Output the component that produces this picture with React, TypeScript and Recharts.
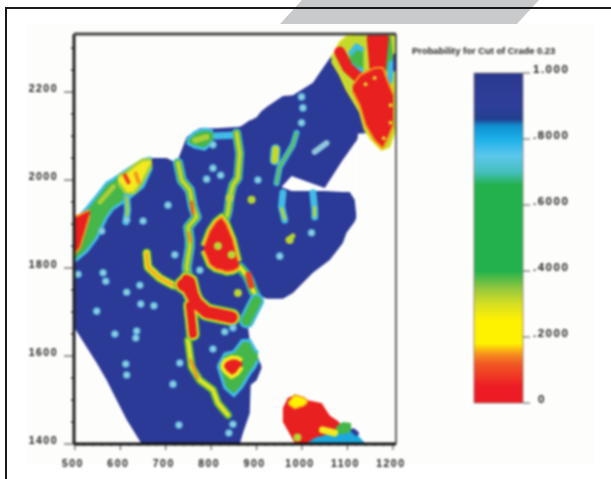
import React from 'react';
import { ComposedChart, BarChart, Bar, Area, Line, Scatter, XAxis, YAxis, ReferenceLine } from 'recharts';

type P = [number, number];
type R = [number, number, number];

const title = 'Probability for Cut of Crade 0.23';
const xTicks = [500,520,540,560,580,600,620,640,660,680,700,720,740,760,780,800,820,840,860,880,900,920,940,960,980,1000,1020,1040,1060,1080,1100,1120,1140,1160,1180,1200];
const yTicks = [1400,1450,1500,1550,1600,1650,1700,1750,1800,1850,1900,1950,2000,2050,2100,2150,2200,2250,2300];
const scaleTicks = [0,0.2,0.4,0.6,0.8,1];
const scaleLabels = ['0','.2000','.4000','.6000','.8000','1.000'];

const hull: R[] = [[498,1666,1898],[526,1620,1936],[548,1584,1964],[570,1545,1993],[584,1516,2002],[614,1455,2023],[647,1400,2043],[665,1400,2050],[702,1400,2050],[724,1400,2039],[746,1400,2098],[775,1400,2118],[812,1400,2118],[863,1400,2121],[870,1425,2125],[885,1470,2136],[887,1534,2136],[900,1545,2143],[911,1573,2157],[914,1734,2159],[922,1730,2166],[958,1730,2191],[980,1743,2193],[1024,1789,2221],[1061,1818,2277],[1090,1857,2318],[1098,1880,2327],[1116,1905,2332],[1120,1916,2332],[1123,2105,2332],[1149,2107,2332],[1171,2080,2332],[1175,2073,2332],[1189,2080,2332],[1206,2114,2332]];
const whiteWedge: R[] = [[881,1666,1666],[885,1636,1682],[896,1614,1698],[911,1577,1720],[915,1550,1727]];
const whiteNotch: R[] = [[955,1984,1984],[977,1975,2009],[1050,1975,1982],[1090,1973,2046],[1105,1973,2068],[1116,1955,2084],[1120,1916,2089],[1125,1900,2100]];

const nwRim: R[] = [[498,1814,1905],[526,1838,1936],[548,1868,1964],[570,1915,1993],[584,1935,2002],[614,1955,2023],[650,1985,2046],[669,2028,2050]];
const nwYellow: R[] = [[595,1995,2008],[614,1968,2018],[632,1972,2034],[650,1998,2046],[669,2036,2046]];
const nwRed: R[] = [[498,1830,1916],[511,1846,1921],[522,1882,1927],[533,1921,1932]];
const nwSpotA: P[] = [[610,2011],[618,1995]];
const nwSpotB: P[] = [[634,2015],[640,1995]];
const nwStreak: P[] = [[555,1950],[585,1985]];
const nwVein: P[] = [[614,1961],[616,1930],[612,1905]];

const veinOne: P[] = [[727,2039],[735,2000],[753,1977],[760,1939],[768,1916],[749,1893],[753,1864],[753,1848],[746,1802],[750,1775]];
const veinOneRedA: P[] = [[757,1950],[760,1925]];
const veinOneRedB: P[] = [[750,1880],[755,1860]];
const veinThree: P[] = [[856,2107],[863,2061],[859,2005],[848,1989],[841,1959],[837,1927],[830,1905]];
const topPatch: R[] = [[746,2085,2090],[764,2075,2109],[786,2070,2116],[804,2088,2112]];
const topCyan: P[] = [[804,2100],[848,2102]];
const topYellow: P[] = [[765,2090],[790,2098]];

const redTriangle: R[] = [[784,1840,1850],[797,1808,1885],[810,1798,1905],[823,1795,1916],[834,1791,1900],[848,1793,1865],[860,1800,1815]];
const triangleVein: P[] = [[863,1802],[878,1784],[885,1770],[892,1750],[903,1727]];
const triangleSpot: P[] = [[882,1785],[888,1760]];
const greenTail: P[] = [[878,1680],[890,1705],[900,1725]];

const leftVein: P[] = [[658,1834],[661,1802],[687,1777],[716,1761],[738,1757]];
const crossA: P[] = [[738,1762],[750,1755],[768,1720],[790,1700],[812,1695],[845,1688]];
const crossB: P[] = [[753,1715],[757,1680],[760,1650]];
const crossC: P[] = [[745,1775],[755,1770],[762,1740]];
const lowerVein: P[] = [[760,1650],[749,1636],[753,1605],[757,1575],[775,1545],[804,1523],[815,1493],[837,1466]];
const lowerRedA: P[] = [[755,1590],[770,1550]];

const blobGreen: R[] = [[815,1577,1577],[830,1528,1605],[850,1510,1610],[868,1530,1635],[885,1560,1636],[896,1575,1615],[903,1590,1607]];
const blobRed: R[] = [[823,1577,1577],[830,1565,1590],[845,1552,1597],[858,1560,1596],[868,1575,1590]];

const lobeVeinA: P[] = [[988,2107],[980,2080],[969,2061],[951,2030],[944,1993]];
const lobeYellow: P[] = [[942,2070],[940,2045]];
const lobePale: P[] = [[1028,2064],[1054,2084]];
const lobeTwoA: P[] = [[958,1971],[955,1939],[962,1909]];
const lobeTwoAy: P[] = [[955,1935],[962,1912]];
const lobeTwoB: P[] = [[1024,1971],[1028,1932],[1028,1916]];
const lobeTwoBy: P[] = [[1028,1938],[1028,1918]];
const lobeTwoC: P[] = [[969,1864],[980,1873]];

const neBase: R[] = [[1065,2270,2277],[1083,2239,2314],[1098,2205,2327],[1127,2155,2332],[1138,2114,2332],[1153,2091,2332],[1175,2068,2332],[1193,2075,2332],[1206,2114,2332]];
const nePatch: R[] = [[1105,2265,2285],[1120,2250,2305],[1135,2250,2295]];
const neRight: P[] = [[1188,2320],[1193,2255]];
const neCyan: P[] = [[1197,2265],[1193,2225]];
const neBlue: P[] = [[1204,2285],[1204,2250]];
const neRed: R[] = [[1112,2200,2216],[1127,2170,2238],[1140,2125,2245],[1160,2090,2255],[1178,2072,2255],[1189,2095,2225],[1201,2125,2195]];
const neRedTopA: P[] = [[1156,2322],[1163,2240]];
const neRedTopB: P[] = [[1178,2322],[1170,2240]];
const neRedLeft: P[] = [[1083,2291],[1101,2255],[1131,2227]];
const neSpots: P[] = [[1140,2218],[1160,2232],[1195,2170],[1195,2130],[1180,2095]];

const southRed: R[] = [[958,1450,1482],[969,1430,1505],[984,1402,1510],[1010,1402,1500],[1043,1402,1493],[1061,1410,1465],[1079,1425,1452],[1090,1436,1440]];
const southTeal: R[] = [[1012,1402,1403],[1030,1402,1415],[1050,1402,1420],[1065,1402,1425],[1085,1402,1436],[1105,1402,1440],[1138,1402,1403]];
const southGreen: R[] = [[1075,1425,1440],[1090,1422,1450],[1108,1428,1448]];
const southYellowBand: P[] = [[1045,1432],[1072,1425]];
const southTop: R[] = [[970,1490,1495],[984,1480,1512],[1005,1487,1505],[1012,1494,1498]];
const southBlue: P[] = [[1113,1430],[1120,1424]];

const paleDots: P[] = [[705,1943],[650,1907],[614,1909],[559,1884],[804,2027],[790,2002],[821,2011],[903,2000],[804,2080],[562,1789],[568,1770],[614,1745],[643,1761],[645,1718],[674,1714],[548,1702],[588,1650],[636,1657],[634,1641],[612,1582],[614,1557],[804,1616],[731,1584],[716,1536],[729,1443],[839,1425],[848,1445],[720,1830],[507,1786],[951,1827],[775,1795],[999,2189],[1002,2164],[999,2130],[1021,1880],[830,1655],[848,1664]];
const yellowDots: P[] = [[889,1955],[841,1959],[859,1743],[973,1864],[815,1850],[845,1830],[990,1415]];

const rows = (a: R[]) => a.map(([x, lo, hi]) => ({ x, r: [lo, hi] }));
const pts = (a: P[]) => a.map(([x, y]) => ({ x, y }));

let z = 1000;
const area = (d: R[], fill: string, stroke = 'none', sw = 0) => {
  z += 1;
  return <Area key={z} zIndex={z} data={rows(d)} dataKey="r" type="linear" fill={fill} fillOpacity={1} stroke={stroke} strokeWidth={sw} strokeLinejoin="round" dot={false} activeDot={false} isAnimationActive={false} legendType="none" />;
};
const line = (d: P[], color: string, w: number) => {
  z += 1;
  return <Line key={z} zIndex={z} data={pts(d)} dataKey="y" type="linear" stroke={color} strokeWidth={w} strokeLinecap="round" strokeLinejoin="round" dot={false} activeDot={false} isAnimationActive={false} legendType="none" />;
};
const dots = (d: P[], fill: string, r: number) => {
  z += 1;
  return <Scatter key={z} zIndex={z} data={pts(d)} dataKey="y" isAnimationActive={false} shape={(p: any) => <circle cx={p.cx} cy={p.cy} r={r} fill={fill} />} />;
};

const BLUE = '#2c3a97', CYAN = '#41bbe6', GREEN = '#45b649', LIME = '#a9cf38', YELLOW = '#f4e91e', ORANGE = '#f7941d', RED = '#e8201f';
const FONT = '"Liberation Sans", Arial, sans-serif';

const LeftTick = (p: any) => {
  const v = p.payload.value;
  const major = v % 200 === 0;
  return (
    <g>
      <line x1={p.x - (major ? 10 : 3)} x2={p.x} y1={p.y} y2={p.y} stroke="#333" strokeWidth={major ? 1 : 1.5} />
      {major && <text x={p.x - 16} y={p.y - 0.5} textAnchor="end" fontFamily={FONT} fontWeight="bold" fontSize={10.5} letterSpacing={1.5} fill="#222">{v}</text>}
    </g>
  );
};
const BottomTick = (p: any) => {
  const v = p.payload.value;
  const major = v % 100 === 0;
  return (
    <g>
      <line x1={p.x} x2={p.x} y1={p.y} y2={p.y + (major ? 6 : 2)} stroke="#444" strokeWidth={1} />
      {major && <text x={p.x - 2} y={p.y + 23} textAnchor="middle" fontFamily={FONT} fontWeight="bold" fontSize={10.5} letterSpacing={1.5} fill="#222">{v}</text>}
    </g>
  );
};
const ScaleTick = (p: any) => {
  const i = scaleTicks.indexOf(p.payload.value);
  return (
    <g>
      <line x1={p.x} x2={p.x + 7} y1={p.y} y2={p.y} stroke="#555" strokeWidth={1} />
      <text x={p.x + (i === 0 ? 15 : 10)} y={p.y} textAnchor="start" fontFamily={FONT} fontWeight="bold" fontSize={11.5} letterSpacing={1.5} fill="#222">{scaleLabels[i]}</text>
    </g>
  );
};

const stops: [number, string][] = [[0,'#2b3990'],[10,'#2e3e9a'],[14,'#22408f'],[16,'#0f8fd0'],[20,'#1cb0ea'],[25,'#5cc7ec'],[30,'#45bfc0'],[34,'#22b14c'],[60,'#22b14c'],[65,'#8dc63f'],[70,'#d7df23'],[75,'#fff200'],[82,'#fff200'],[85,'#f7941d'],[88,'#f15a24'],[95,'#ed1c24'],[100,'#ed1c24']];
const scaleData = [{ name: 'p', value: 1 }];

export default function App() {
  z = 1000;
  return (
    <div style={{ position: 'absolute', left: 0, top: 0, width: 611, height: 479, background: '#fff', overflow: 'hidden' }}>
      <div style={{ position: 'absolute', left: 0, top: 0, width: 611, height: 24, clipPath: 'polygon(302px 0, 539px 0, 517px 24px, 280px 24px)', background: '#c9cacb' }} />
      <div style={{ position: 'absolute', left: 5, top: 7, width: 606, height: 2, background: '#1a1a1a' }} />
      <div style={{ position: 'absolute', left: 5, top: 7, width: 2, height: 472, background: '#1a1a1a' }} />
      <div style={{ position: 'absolute', left: 27, top: 24, width: 568, height: 441, background: '#fdfdfc' }} />
      <div style={{ position: 'absolute', left: 0, top: 0, width: 611, height: 479, filter: 'blur(1px)' }}>
        <ComposedChart width={611} height={479} margin={{ left: 44, right: 215, top: 34, bottom: 5 }}>
          <XAxis type="number" dataKey="x" domain={[498, 1207]} ticks={xTicks} interval={0} allowDataOverflow height={30} tickSize={0} tickMargin={0} tickLine={false} tick={BottomTick} axisLine={{ stroke: '#111', strokeWidth: 3 }} zIndex={5000} />
          <YAxis type="number" dataKey="y" domain={[1400, 2332]} ticks={yTicks} interval={0} allowDataOverflow width={30} tickSize={0} tickMargin={0} tickLine={false} tick={LeftTick} axisLine={{ stroke: '#222', strokeWidth: 3 }} zIndex={5000} />
          {area(hull, BLUE)}
          {area(whiteWedge, '#fdfdfc')}
          {area(whiteNotch, '#fdfdfc')}

          {area(nwRim, GREEN, CYAN, 3)}
          {line(nwStreak, LIME, 5)}
          {area(nwYellow, YELLOW, LIME, 3)}
          {line(nwSpotA, '#ef4023', 4)}
          {line(nwSpotB, ORANGE, 4)}
          {area(nwRed, RED, ORANGE, 2)}
          {line(nwVein, CYAN, 7)}
          {line(nwVein, LIME, 3)}

          {line(veinOne, CYAN, 10)}
          {line(veinOne, '#62bb46', 7)}
          {line(veinOne, '#d8dc2a', 3)}
          {line(veinOneRedA, '#ef5a24', 3)}
          {line(veinOneRedB, ORANGE, 3)}
          {line(topCyan, CYAN, 7)}
          {area(topPatch, GREEN, CYAN, 3)}
          {line(topYellow, LIME, 6)}
          {line(veinThree, CYAN, 9)}
          {line(veinThree, '#62bb46', 7)}
          {line(veinThree, '#d8dc2a', 3)}

          {line(triangleVein, CYAN, 10)}
          {line(triangleVein, GREEN, 8)}
          {line(triangleVein, YELLOW, 4)}
          {line(triangleSpot, '#ef4023', 6)}
          {line(greenTail, CYAN, 15)}
          {line(greenTail, GREEN, 10)}
          {area(redTriangle, RED, GREEN, 8)}
          {area(redTriangle, RED, YELLOW, 5)}
          {area(redTriangle, RED, ORANGE, 2)}

          {line(lowerVein, '#57b947', 8)}
          {line(lowerVein, '#e6e422', 4)}
          {line(lowerRedA, ORANGE, 3)}
          {line(leftVein, '#57b947', 9)}
          {line(leftVein, YELLOW, 6)}
          {line(leftVein, ORANGE, 2)}
          {line(crossA, '#57b947', 18)}
          {line(crossB, '#57b947', 14)}
          {line(crossC, '#57b947', 15)}
          {line(crossA, YELLOW, 15)}
          {line(crossB, YELLOW, 11)}
          {line(crossC, YELLOW, 12)}
          {line(crossA, RED, 12)}
          {line(crossB, RED, 8)}
          {line(crossC, RED, 9)}

          {area(blobGreen, GREEN, CYAN, 3)}
          {area(blobRed, RED, YELLOW, 4)}

          {line(lobeVeinA, CYAN, 6)}
          {line(lobeVeinA, '#62bb46', 2.5)}
          {line(lobeYellow, CYAN, 10)}
          {line(lobeYellow, '#c5d92d', 7)}
          {line(lobePale, '#8fc7dd', 6)}
          {line(lobeTwoA, CYAN, 7)}
          {line(lobeTwoAy, '#b9d532', 3)}
          {line(lobeTwoB, CYAN, 7)}
          {line(lobeTwoBy, '#b9d532', 3)}
          {line(lobeTwoC, '#b9d532', 5)}

          {area(neBase, '#c5d92d', '#e6e422', 1.5)}
          {area(nePatch, GREEN, CYAN, 5)}
          {line(neRight, GREEN, 8)}
          {line(neCyan, CYAN, 6)}
          {line(neBlue, BLUE, 3)}
          {line(neRedTopA, RED, 12)}
          {line(neRedTopB, RED, 12)}
          {line(neRedLeft, RED, 11)}
          {area(neRed, RED, ORANGE, 2)}
          {dots(neSpots, '#e6d32a', 2)}

          {area(southRed, RED)}
          {area(southTeal, '#1ca8dc')}
          {area(southGreen, GREEN)}
          {line(southYellowBand, YELLOW, 7)}
          {line(southBlue, BLUE, 5)}
          {area(southTop, '#fff200', ORANGE, 1.5)}

          {dots(paleDots, '#5cbde4', 3.8)}
          {dots(paleDots, '#a6cfd6', 2)}
          {dots(yellowDots, '#b9d532', 4)}

          <ReferenceLine y={2332} stroke="#444" strokeWidth={3} ifOverflow="visible" zIndex={5000} />
          <ReferenceLine x={1207} stroke="#333" strokeWidth={1.5} ifOverflow="visible" zIndex={5000} />
        </ComposedChart>

        <div style={{ position: 'absolute', left: 412, top: 45, width: 180, fontFamily: FONT, fontWeight: 'bold', fontSize: 9.4, lineHeight: '12px', whiteSpace: 'nowrap', color: '#222' }}>{title}</div>

        <div style={{ position: 'absolute', left: 460, top: 50 }}>
          <BarChart width={150} height={370} data={scaleData} margin={{ left: 14, right: 47, top: 23, bottom: 17 }} barCategoryGap={0}>
            <defs>
              <linearGradient id="scaleFill" x1="0" y1="0" x2="0" y2="1">
                {stops.map(([o, c]) => <stop key={o} offset={`${o}%`} stopColor={c} />)}
              </linearGradient>
            </defs>
            <XAxis dataKey="name" hide />
            <YAxis orientation="right" type="number" domain={[0, 1]} ticks={scaleTicks} interval={0} width={40} tickSize={0} tickMargin={0} tickLine={false} axisLine={false} tick={ScaleTick} />
            <Bar dataKey="value" fill="url(#scaleFill)" stroke="#8a7a70" strokeWidth={0.8} isAnimationActive={false} />
          </BarChart>
        </div>
      </div>
    </div>
  );
}
